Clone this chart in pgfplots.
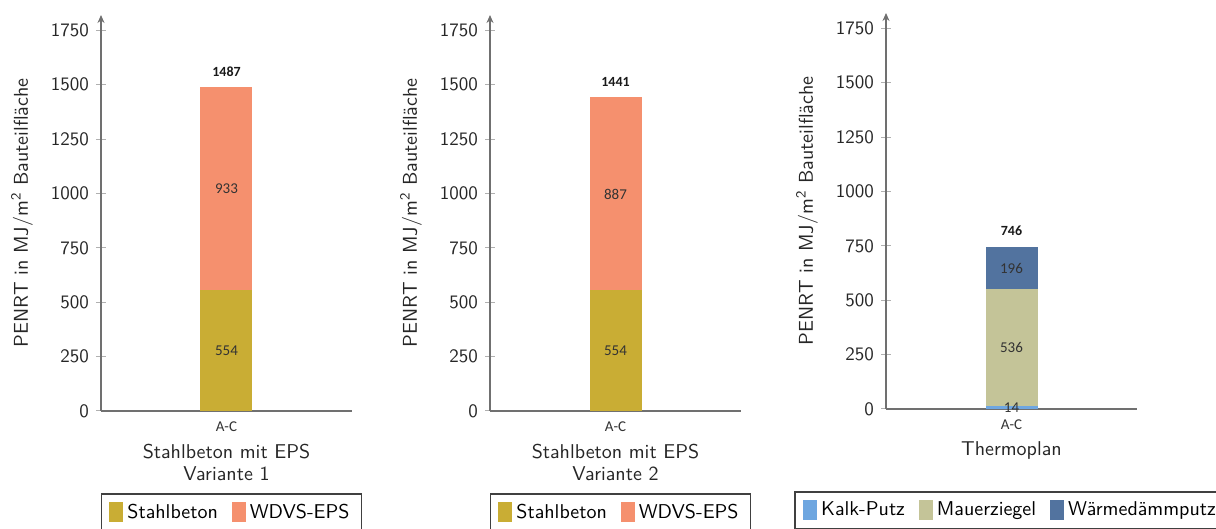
\documentclass[border=0pt]{standalone}
\usepackage{fontspec}
\usepackage{pgfplots}
\pgfplotsset{compat=1.18}
\usetikzlibrary{arrows.meta}
\newfontfamily\carlito{Carlito}

\definecolor{stahl}{HTML}{C9AD34}
\definecolor{eps}{HTML}{F5906E}
\definecolor{kalk}{HTML}{6EA6E0}
\definecolor{ziegel}{HTML}{C4C498}
\definecolor{daemm}{HTML}{52739F}
\definecolor{axisgray}{HTML}{707070}
\definecolor{tickgray}{HTML}{B0B0B0}
\definecolor{labelgray}{HTML}{333333}

\pgfplotsset{
  frame/.style={
    width=125.5pt, height=198pt, scale only axis,
    xmin=-1, xmax=1, ymin=0, ymax=1820,
    anchor=south west,
  },
  panel/.style={
    frame,
    axis lines=left,
    axis line style={draw=axisgray, line width=0.8pt},
    y axis line style={-{Stealth[length=4pt,width=3.5pt]}},
    x axis line style={-},
    ytick={0,250,...,1750},
    xtick={0}, xticklabels={A-C},
    xtick style={draw=none},
    ytick style={draw=tickgray, line width=0.5pt},
    major tick length=5pt,
    tick align=center,
    /pgf/number format/1000 sep={},
    /pgf/number format/assume math mode=true,
    yticklabel style={font=\sffamily\fontsize{9.5}{10}\selectfont, text=black!85},
    xticklabel style={font=\carlito\fontsize{7.5}{8}\selectfont, text=black!80, yshift=0.5pt},
    ylabel={PENRT in MJ/m\textsuperscript{2} Bauteilfläche},
    ylabel style={at={(axis description cs:-0.315,0.5)}, anchor=center,
      font=\sffamily\fontsize{10}{12}\selectfont, text=black!85},
    xlabel style={at={(axis description cs:0.5,0)}, anchor=north, yshift=-13pt,
      align=center, font=\sffamily\fontsize{10}{11}\selectfont, text=black!85},
    ybar stacked, bar width=26pt,
    legend style={at={(0.5,-0.207)}, anchor=north, legend columns=-1,
      draw=black!75, line width=0.8pt, inner xsep=4pt, inner ysep=3pt,
      font=\sffamily\fontsize{10}{12}\selectfont,
      /tikz/every even column/.append style={column sep=5pt}},
    legend image code/.code={\fill[##1] (0pt,-5pt) rectangle (7pt,5pt);},
  },
  values/.style={
    frame, hide axis,
    nodes near coords={\pgfplotspointmeta},
    point meta=explicit symbolic,
  },
  inner/.style={draw=none, mark=none,
    every node near coord/.style={anchor=center, text=labelgray,
      font=\carlito\fontsize{7.5}{8}\selectfont}},
  total/.style={draw=none, mark=none,
    every node near coord/.style={anchor=south, yshift=2pt, text=black!90,
      font=\carlito\bfseries\fontsize{7}{8}\selectfont}},
}

\begin{document}
\begin{tikzpicture}
% Stahlbeton mit EPS, Variante 1
\begin{axis}[panel, at={(50.5pt,0pt)}, legend style={xshift=2.5pt},
  xlabel={Stahlbeton mit EPS\\Variante 1}]
  \addplot[fill=stahl, draw=none] coordinates {(0,554)};
  \addlegendentry{Stahlbeton}
  \addplot[fill=eps, draw=none] coordinates {(0,933)};
  \addlegendentry{WDVS-EPS}
\end{axis}
\begin{axis}[values, at={(50.5pt,0pt)}]
  \addplot[inner] coordinates {(0,277)[554] (0,1020.5)[933]};
  \addplot[total] coordinates {(0,1487)[1487]};
\end{axis}

% Stahlbeton mit EPS, Variante 2
\begin{axis}[panel, at={(245pt,0pt)}, legend style={xshift=2.5pt},
  xlabel={Stahlbeton mit EPS\\Variante 2}]
  \addplot[fill=stahl, draw=none] coordinates {(0,554)};
  \addlegendentry{Stahlbeton}
  \addplot[fill=eps, draw=none] coordinates {(0,887)};
  \addlegendentry{WDVS-EPS}
\end{axis}
\begin{axis}[values, at={(245pt,0pt)}]
  \addplot[inner] coordinates {(0,277)[554] (0,997.5)[887]};
  \addplot[total] coordinates {(0,1441)[1441]};
\end{axis}

% Thermoplan
\begin{axis}[panel, at={(443pt,1pt)},
  xlabel={Thermoplan}]
  \addplot[fill=kalk, draw=none] coordinates {(0,14)};
  \addlegendentry{Kalk-Putz}
  \addplot[fill=ziegel, draw=none] coordinates {(0,536)};
  \addlegendentry{Mauerziegel}
  \addplot[fill=daemm, draw=none] coordinates {(0,196)};
  \addlegendentry{Wärmedämmputz}
\end{axis}
\begin{axis}[values, at={(443pt,1pt)}]
  \addplot[inner] coordinates {(0,7)[14] (0,282)[536] (0,648)[196]};
  \addplot[total] coordinates {(0,746)[746]};
\end{axis}

\pgfresetboundingbox
\path (0pt,-59pt) rectangle (608pt,205.5pt);
\end{tikzpicture}
\end{document}
